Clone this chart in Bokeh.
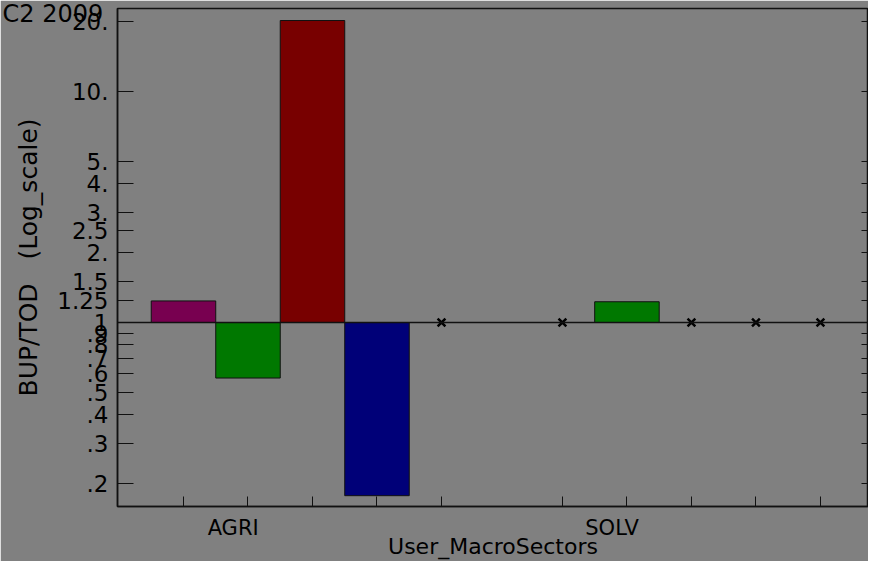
from bokeh.plotting import figure
from bokeh.models import FixedTicker, LinearAxis, Span, ColumnDataSource, Range1d, Title
from bokeh.embed import file_html
from bokeh.resources import INLINE

# ---------------- data ----------------
sectors = ["AGRI", "SOLV"]
slot_colors = ["#780050", "#007800", "#780000", "#000078", "#808080"]
# BUP/TOD ratio per sector, per series slot (None = no value -> cross on the 1-line)
agri_values = [1.24, 0.575, 20.3, 0.178, None]
solv_values = [None, 1.23, None, None, None]
sector_values = [agri_values, solv_values]

y_tick_values = [20, 10, 5, 4, 3, 2.5, 2, 1.5, 1.25, 1, 0.9, 0.8, 0.7, 0.6, 0.5, 0.4, 0.3, 0.2]
y_tick_labels = ["20.", "10.", "5.", "4.", "3.", "2.5", "2.", "1.5", "1.25", "1",
                 ".9", ".8", ".7", ".6", ".5", ".4", ".3", ".2"]

# ---------------- layout constants ----------------
n_slots = 5
group_gap = 0.875
label_offset = 0.77
FONT = "DejaVu Sans"
BG = "#808080"
INK = "#111111"

bar_x, bar_top, bar_col = [], [], []
miss_x, miss_y = [], []
slot_x = []
label_x = []
for g, vals in enumerate(sector_values):
    start = g * (n_slots + group_gap)
    label_x.append(start + label_offset)
    for i, v in enumerate(vals):
        x = start + i
        slot_x.append(x)
        if v is None:
            miss_x.append(x)
            miss_y.append(1.0)
        else:
            bar_x.append(x)
            bar_top.append(v)
            bar_col.append(slot_colors[i])

bars = ColumnDataSource(dict(x=bar_x, top=bar_top, bottom=[1.0] * len(bar_x), color=bar_col))
miss = ColumnDataSource(dict(x=miss_x, y=miss_y))

p = figure(width=868, height=561, output_backend="svg", toolbar_location=None,
           y_axis_type="log",
           x_range=Range1d(-1.023, 10.62), y_range=Range1d(0.1598, 22.88),
           min_border_left=117, min_border_right=0, min_border_top=8, min_border_bottom=55)
p.background_fill_color = BG
p.border_fill_color = BG
p.outline_line_color = INK
p.outline_line_width = 1.5
p.grid.visible = False

p.add_layout(Span(location=1.0, dimension="width", line_color=INK, line_width=1.5))

p.vbar(x="x", width=1.0, bottom="bottom", top="top", fill_color="color",
       line_color=INK, line_width=1, source=bars)
p.scatter(x="x", y="y", marker="x", size=11, line_color="black", line_width=2.5, source=miss)

# y axis
ya = p.yaxis[0]
ya.ticker = FixedTicker(ticks=y_tick_values)
ya.major_label_overrides = {float(v): s for v, s in zip(y_tick_values, y_tick_labels)}
ya.major_tick_in = 16
ya.major_tick_out = 0
ya.major_label_standoff = 9
ya.axis_label = "BUP/TOD\u00a0\u00a0\u00a0(Log_scale)"
ya.axis_label_standoff = 11
ya.major_label_text_font_size = "23px"
ya.axis_label_text_font_size = "25px"

# x axis
xa = p.xaxis[0]
xa.ticker = FixedTicker(ticks=label_x, minor_ticks=slot_x)
xa.major_label_overrides = {float(v): s for v, s in zip(label_x, sectors)}
xa.major_tick_in = 0
xa.major_tick_out = 0
xa.minor_tick_in = 10
xa.minor_tick_out = 0
xa.major_label_standoff = 9
xa.axis_label = "User_MacroSectors"
xa.axis_label_standoff = -9
xa.major_label_text_font_size = "21px"
xa.axis_label_text_font_size = "22px"

# right axis (ticks only)
ra = LinearAxis(ticker=FixedTicker(ticks=y_tick_values))
ra.axis_line_color = None
ra.major_tick_in = 7
ra.major_tick_out = 0
ra.minor_tick_line_color = None
ra.major_label_overrides = {float(v): "" for v in y_tick_values}
ra.major_label_standoff = 0
ra.major_tick_line_color = INK
p.add_layout(ra, "right")

for ax in (xa, ya):
    ax.axis_line_color = INK
    ax.axis_line_width = 1.5
    ax.major_tick_line_color = INK
    ax.major_label_text_font = FONT
    ax.major_label_text_color = "black"
    ax.axis_label_text_font = FONT
    ax.axis_label_text_font_style = "normal"
    ax.axis_label_text_color = "black"
xa.minor_tick_line_color = INK
ya.minor_tick_line_color = None

p.add_layout(Title(text="C2 2009", text_font=FONT, text_font_size="24px",
                   text_font_style="normal", text_color="black",
                   align="left", offset=-115, standoff=-38, vertical_align="bottom"),
             "above")

open("out.html", "w").write(file_html(p, INLINE))
